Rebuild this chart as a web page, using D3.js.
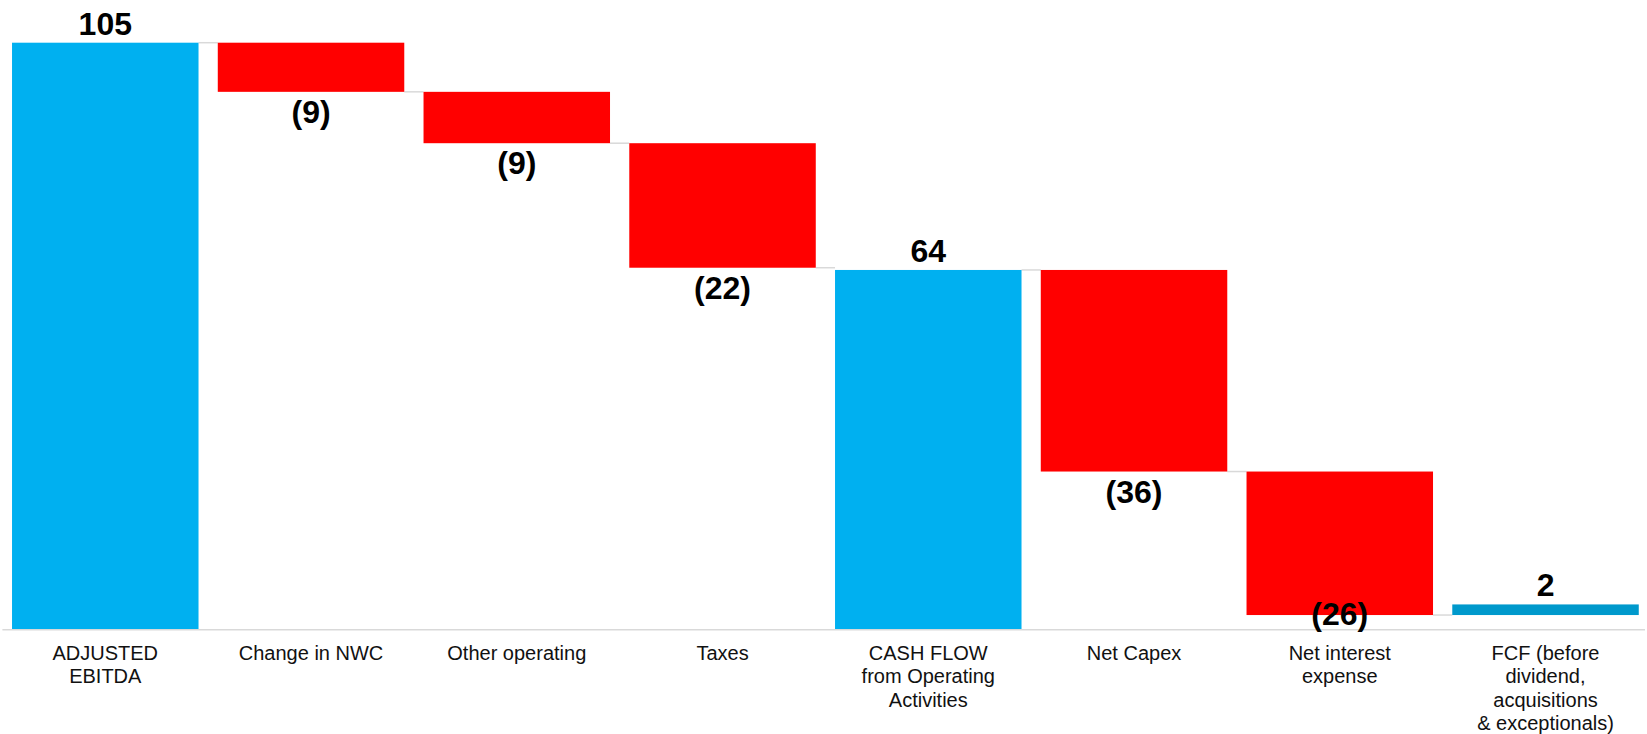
<!DOCTYPE html>
<html>
<head>
<meta charset="utf-8">
<script src="https://cdn.jsdelivr.net/npm/d3@7"></script>
<style>
  html, body { margin: 0; padding: 0; background: #ffffff; }
  svg { display: block; }
</style>
</head>
<body>
<svg id="chart" width="1647" height="734"></svg>
<script>
// ---- Data ----
const categories = [
  ["ADJUSTED", "EBITDA"],
  ["Change in NWC"],
  ["Other operating"],
  ["Taxes"],
  ["CASH FLOW", "from Operating", "Activities"],
  ["Net Capex"],
  ["Net interest", "expense"],
  ["FCF (before", "dividend,", "acquisitions", "& exceptionals)"]
];
const values = [105, -8.8, -9.2, -22.3, 64.3, -36.1, -25.7, 1.9];
// total: drawn from zero; delta: floating change; stack: placed on running total
const kinds = ["total", "delta", "delta", "delta", "total", "delta", "delta", "stack"];

// ---- Layout ----
const W = 1647, H = 734;
const svg = d3.select("#chart");
const ids = d3.range(values.length);

const x = d3.scaleBand()
  .domain(ids)
  .range([2.4, 1648.4])
  .paddingInner(0.0936)
  .paddingOuter(0.0468);

const y = d3.scaleLinear().domain([0, 105]).range([629, 42.7]);

const colorOf = { total: "#00B0F0", delta: "#FF0000", stack: "#0099CC" };

// compute bar extents
let running = 0;
const bars = ids.map(i => {
  const v = values[i], k = kinds[i];
  let lo, hi, end;
  if (k === "total") { lo = 0; hi = v; end = v; }
  else if (k === "delta") { const s = running; end = running + v; lo = Math.min(s, end); hi = Math.max(s, end); }
  else { lo = running; hi = running + v; end = running; }
  running = end;
  return { i, v, k, lo, hi, end };
});

// axis baseline
svg.append("line")
  .attr("x1", 2.4).attr("x2", 1645)
  .attr("y1", y(0) + 0.75).attr("y2", y(0) + 0.75)
  .attr("stroke", "#D9D9D9").attr("stroke-width", 1.5);

// connectors
bars.slice(0, -1).forEach(b => {
  const yy = y(b.end);
  svg.append("line")
    .attr("x1", x(b.i) + x.bandwidth()).attr("x2", x(b.i + 1))
    .attr("y1", yy).attr("y2", yy)
    .attr("stroke", "#D9D9D9").attr("stroke-width", 1.5);
});

// bars
svg.selectAll("rect.bar").data(bars).enter().append("rect")
  .attr("class", "bar")
  .attr("x", d => x(d.i))
  .attr("width", x.bandwidth())
  .attr("y", d => y(d.hi))
  .attr("height", d => y(d.lo) - y(d.hi))
  .attr("fill", d => colorOf[d.k]);

// value labels
const fmt = v => v < 0 ? `(${Math.round(-v)})` : `${Math.round(v)}`;
svg.selectAll("text.val").data(bars).enter().append("text")
  .attr("class", "val")
  .attr("x", d => x(d.i) + x.bandwidth() / 2)
  .attr("y", d => d.v < 0 ? Math.min(y(d.lo) + 31, y(0) - 4) : y(d.hi) - 8)
  .attr("text-anchor", "middle")
  .attr("font-family", "'Liberation Sans', Arial, sans-serif")
  .attr("font-weight", "bold")
  .attr("font-size", 32)
  .attr("fill", "#000")
  .text(d => fmt(d.v));

// category labels
const cat = svg.selectAll("text.cat").data(ids).enter().append("text")
  .attr("class", "cat")
  .attr("x", i => x(i) + x.bandwidth() / 2)
  .attr("y", 660)
  .attr("text-anchor", "middle")
  .attr("font-family", "'Liberation Sans', Arial, sans-serif")
  .attr("font-size", 20)
  .attr("fill", "#111");
cat.each(function(i) {
  const t = d3.select(this);
  categories[i].forEach((line, j) => {
    t.append("tspan")
      .attr("x", x(i) + x.bandwidth() / 2)
      .attr("dy", j === 0 ? 0 : 23.4)
      .text(line);
  });
});
</script>
</body>
</html>
